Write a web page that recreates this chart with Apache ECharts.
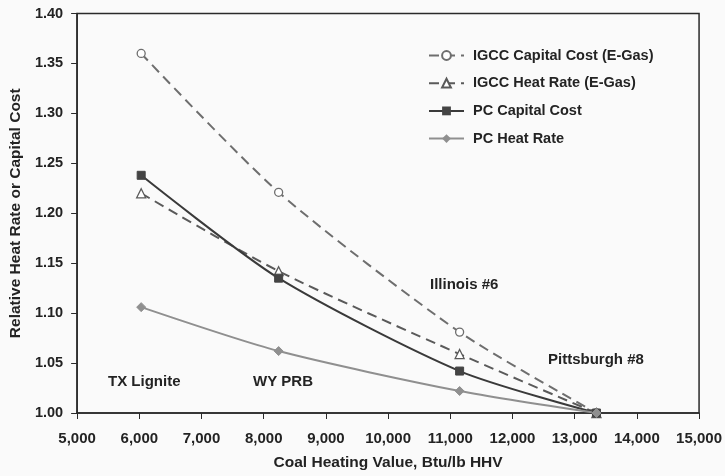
<!DOCTYPE html>
<html>
<head>
<meta charset="utf-8">
<script src="https://cdn.jsdelivr.net/npm/echarts@6/dist/echarts.min.js"></script>
<style>
html,body{margin:0;padding:0;background:#fafafa;}
#c{width:725px;height:476px;}
</style>
</head>
<body>
<div id="c"></div>
<script>
var heatingValues = [6030, 8240, 11150, 13350];
var igccCapital = [1.36, 1.221, 1.081, 1.0];
var igccHeatRate = [1.22, 1.142, 1.059, 1.0];
var pcCapital = [1.238, 1.135, 1.042, 1.0];
var pcHeatRate = [1.106, 1.062, 1.022, 1.0];
var seriesNames = ['IGCC Capital Cost (E-Gas)', 'IGCC Heat Rate (E-Gas)', 'PC Capital Cost', 'PC Heat Rate'];
var coalLabels = ['TX Lignite', 'WY PRB', 'Illinois #6', 'Pittsburgh #8'];

function pairs(ys){ return heatingValues.map(function(x,i){ return [x, ys[i]]; }); }

var font = 'Liberation Sans, Arial, sans-serif';
var ink = '#232323';
var chart = echarts.init(document.getElementById('c'), null, {renderer:'canvas'});
chart.setOption({
  backgroundColor: '#fafafa',
  animation: false,
  grid: {left: 77, right: 22, top: 13.5, bottom: 61.5, show: true, borderColor: '#2a2a2a', borderWidth: 1.5, backgroundColor: 'transparent'},
  xAxis: {
    type: 'value', min: 5000, max: 15000, interval: 1000,
    name: 'Coal Heating Value, Btu/lb HHV', nameLocation: 'middle', nameGap: 42,
    nameTextStyle: {fontFamily: font, fontWeight: 'bold', fontSize: 15.5, color: ink},
    axisLine: {show: true, lineStyle: {color: '#2a2a2a', width: 1.5}},
    axisTick: {show: true, length: 6, lineStyle: {color: '#2a2a2a'}},
    splitLine: {show: false},
    axisLabel: {fontFamily: font, fontWeight: 'bold', fontSize: 15, color: ink, margin: 18,
      formatter: function(v){ return v.toLocaleString('en-US'); }}
  },
  yAxis: {
    type: 'value', min: 1.0, max: 1.4, interval: 0.05,
    name: 'Relative Heat Rate or Capital Cost', nameLocation: 'middle', nameGap: 49, nameRotate: 90,
    nameTextStyle: {fontFamily: font, fontWeight: 'bold', fontSize: 15.5, color: ink},
    axisLine: {show: true, lineStyle: {color: '#2a2a2a', width: 1.5}},
    axisTick: {show: true, length: 6, lineStyle: {color: '#2a2a2a'}},
    splitLine: {show: false},
    axisLabel: {fontFamily: font, fontWeight: 'bold', fontSize: 14.5, color: ink, margin: 14,
      formatter: function(v){ return v.toFixed(2); }}
  },
  legend: {
    orient: 'vertical', left: 423, top: 43, itemWidth: 35, itemHeight: 11, itemGap: 12.7,
    textStyle: {fontFamily: font, fontWeight: 'bold', fontSize: 14.5, color: ink, padding: [0,0,0,4]},
    data: seriesNames
  },
  series: [
    {name: seriesNames[0], type: 'line', data: pairs(igccCapital), smooth: 0.25,
     symbol: 'circle', symbolSize: 8,
     lineStyle: {color: '#6e6e6e', width: 2, type: [10, 6]},
     itemStyle: {color: '#ffffff', borderColor: '#6e6e6e', borderWidth: 1.3}},
    {name: seriesNames[1], type: 'line', data: pairs(igccHeatRate), smooth: 0.25,
     symbol: 'triangle', symbolSize: 9,
     lineStyle: {color: '#5a5a5a', width: 2, type: [10, 6]},
     itemStyle: {color: '#ffffff', borderColor: '#5a5a5a', borderWidth: 1.3}},
    {name: seriesNames[2], type: 'line', data: pairs(pcCapital), smooth: 0.25,
     symbol: 'rect', symbolSize: 8,
     lineStyle: {color: '#3a3a3a', width: 2},
     itemStyle: {color: '#444444', borderColor: '#444444'}},
    {name: seriesNames[3], type: 'line', data: pairs(pcHeatRate), smooth: 0.25,
     symbol: 'diamond', symbolSize: 9,
     lineStyle: {color: '#8f8f8f', width: 2},
     itemStyle: {color: '#8f8f8f', borderColor: '#8f8f8f'}}
  ],
  graphic: [
    {type: 'text', left: 108, top: 374, style: {text: coalLabels[0], font: 'bold 15px ' + font, fill: ink}},
    {type: 'text', left: 253, top: 374, style: {text: coalLabels[1], font: 'bold 15px ' + font, fill: ink}},
    {type: 'text', left: 430, top: 277, style: {text: coalLabels[2], font: 'bold 15px ' + font, fill: ink}},
    {type: 'text', left: 548, top: 352, style: {text: coalLabels[3], font: 'bold 15px ' + font, fill: ink}}
  ]
});
</script>
</body>
</html>
